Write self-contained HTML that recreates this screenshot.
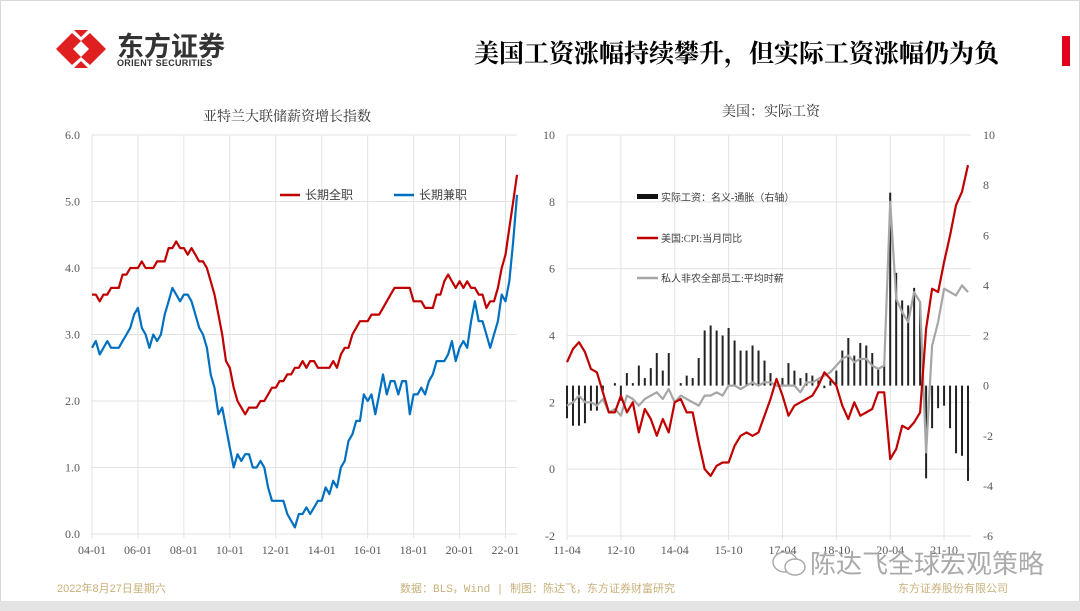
<!DOCTYPE html>
<html><head><meta charset="utf-8"><style>
body{margin:0;width:1080px;height:611px;background:#fff;overflow:hidden;font-family:"Liberation Sans","Noto Sans CJK SC",sans-serif;}
#wrap{position:absolute;left:0;top:0;width:1080px;height:611px;}
.t{position:absolute;white-space:nowrap;}
</style></head><body>
<div id="wrap">
<div style="position:absolute;left:0;top:0;width:1078px;height:601px;border:1px solid #d8d8d8;border-bottom:none"></div>
<div style="position:absolute;left:0;top:601px;width:1080px;height:10px;background:#e4e4e4"></div>
<svg style="position:absolute;left:52px;top:28px" width="58" height="42">
<path d="M4,21 L20,5 L29,13 L21,21 L29,29 L20,37 Z" fill="#e02020"/><path d="M54,21 L38,5 L29,13 L37,21 L29,29 L38,37 Z" fill="#e02020"/>
<path d="M22,2 L36,2 L29,9 Z" fill="#e02020"/><path d="M22,40 L36,40 L29,33 Z" fill="#e02020"/></svg>
<div class="t" style="left:117px;top:30px;font-size:27px;font-weight:bold;color:#333;font-family:'Noto Sans CJK SC',sans-serif;line-height:30px">东方证券</div>
<div class="t" style="left:117px;top:58px;font-size:9px;font-weight:bold;color:#333;letter-spacing:0.3px">ORIENT SECURITIES</div>
<div class="t" style="left:474px;top:34px;font-size:25px;font-weight:bold;color:#000;font-family:'Noto Serif CJK SC',serif">美国工资涨幅持续攀升，但实际工资涨幅仍为负</div>
<div style="position:absolute;left:1062px;top:36px;width:8px;height:30px;background:#e0001b"></div>
<div class="t" style="left:203px;top:106px;font-size:14px;color:#333;font-family:'Noto Serif CJK SC',serif">亚特兰大联储薪资增长指数</div>
<div class="t" style="left:722px;top:101px;font-size:14px;color:#333;font-family:'Noto Serif CJK SC',serif">美国：实际工资</div>
<svg id="L" style="position:absolute;left:0;top:0" width="540" height="560"></svg>
<svg id="R" style="position:absolute;left:540px;top:0" width="540" height="560"></svg>
<svg style="position:absolute;left:771px;top:549px" width="36" height="30"><ellipse cx="14" cy="13" rx="12" ry="10" fill="none" stroke="#aaa" stroke-width="1.5"/><ellipse cx="24" cy="18" rx="10" ry="8" fill="#fff" stroke="#aaa" stroke-width="1.5"/></svg>
<div class="t" style="left:810px;top:546px;font-size:26px;color:#aaa;font-family:'Noto Sans CJK SC',sans-serif;line-height:34px">陈达飞全球宏观策略</div>
<div class="t" style="left:57px;top:580px;font-size:11px;color:#c8b07a">2022年8月27日星期六</div>
<div class="t" style="left:400px;top:580px;font-size:11px;color:#c8b07a;font-family:'Liberation Mono','Noto Sans CJK SC',monospace">数据：BLS，Wind | 制图：陈达飞，东方证券财富研究</div>
<div class="t" style="left:898px;top:580px;font-size:11px;color:#c8b07a">东方证券股份有限公司</div>
</div>
<script>
// Left chart data (bi-monthly from 2004-01)
const leftStart=[2004,1];
const fullTime=[3.6,3.6,3.5,3.6,3.6,3.7, 3.7,3.7,3.9,3.9,4.0,4.0, 4.0,4.1,4.0,4.0,4.0,4.1, 4.1,4.1,4.3,4.3,4.4,4.3, 4.3,4.2,4.3,4.2,4.1,4.1, 4.0,3.8,3.6,3.3,3.0,2.6, 2.5,2.2,2.0,1.9,1.8,1.9, 1.9,1.9,2.0,2.0,2.1,2.2, 2.2,2.3,2.3,2.4,2.4,2.5, 2.5,2.6,2.5,2.6,2.6,2.5, 2.5,2.5,2.5,2.6,2.5,2.7, 2.8,2.8,3.0,3.1,3.2,3.2, 3.2,3.3,3.3,3.3,3.4,3.5, 3.6,3.7,3.7,3.7,3.7,3.7, 3.5,3.5,3.5,3.4,3.4,3.4, 3.6,3.6,3.8,3.9,3.8,3.7, 3.8,3.7,3.8,3.7,3.7,3.6, 3.6,3.4,3.5,3.5,3.7,4.0, 4.2,4.6,5.0,5.4];
const partTime=[2.8,2.9,2.7,2.8,2.9,2.8, 2.8,2.8,2.9,3.0,3.1,3.3, 3.4,3.1,3.0,2.8,3.0,2.9, 3.0,3.3,3.5,3.7,3.6,3.5, 3.6,3.6,3.5,3.3,3.1,3.0, 2.8,2.4,2.2,1.8,1.9,1.6, 1.3,1.0,1.2,1.1,1.2,1.2, 1.0,1.0,1.1,1.0,0.7,0.5, 0.5,0.5,0.5,0.3,0.2,0.1, 0.3,0.3,0.4,0.3,0.4,0.5, 0.5,0.7,0.6,0.8,0.7,1.0, 1.1,1.4,1.5,1.7,1.7,2.1, 2.0,2.1,1.8,2.1,2.4,2.1, 2.3,2.3,2.1,2.3,2.3,1.8, 2.1,2.1,2.2,2.1,2.3,2.4, 2.6,2.6,2.6,2.7,2.9,2.6, 2.8,2.9,2.8,3.2,3.5,3.2, 3.2,3.0,2.8,3.0,3.2,3.6, 3.5,3.8,4.4,5.1];
const leftYTicks=[0,1,2,3,4,5,6];
const leftXTicks=["04-01","06-01","08-01","10-01","12-01","14-01","16-01","18-01","20-01","22-01"];
// Right chart data (bi-monthly from 2011-04)
const rightStart=[2011,4];
const realWage=[-1.3,-1.6,-1.6,-1.5,-1.0, -1.0,-0.2,0.0,0.1,-0.6,0.5, 0.1,0.8,0.3,0.7,1.3,0.6, 1.3,0.0,0.1,0.4,0.3,1.1, 2.2,2.4,2.2,2.0,2.3,1.8, 1.4,1.4,1.6,1.4,1.0,0.5, 0.0,0.3,0.9,0.6,0.3,0.5, 0.4,0.2,-0.1,0.2,0.6,1.4, 1.9,1.2,1.7,1.6,1.3,0.7, 0.8,7.7,4.5,3.4,3.2,3.9, 3.3,-3.7,-1.7,-0.9,-0.8,-1.7, -2.7,-2.8,-3.8];
const cpi=[3.2,3.6,3.8,3.5,3.0, 2.9,2.3,1.7,1.7,2.2,1.7, 2.0,1.1,1.8,1.5,1.0,1.5, 1.1,2.0,2.1,1.7,1.7,0.8, 0.0,-0.2,0.1,0.2,0.2,0.7, 1.0,1.1,1.0,1.1,1.6,2.1, 2.7,2.2,1.6,1.9,2.0,2.1, 2.2,2.5,2.9,2.7,2.5,1.9, 1.5,2.0,1.6,1.7,1.8,2.3, 2.3,0.3,0.6,1.3,1.2,1.4, 1.7,4.2,5.4,5.3,6.2,7.0, 7.9,8.3,9.1];
const hourlyWage=[1.9,2.0,2.2,2.0,2.0, 1.9,2.1,1.7,1.8,1.6,2.2, 2.1,1.9,2.1,2.2,2.3,2.1, 2.4,2.0,2.2,2.1,2.0,1.9, 2.2,2.2,2.3,2.2,2.5,2.5, 2.4,2.5,2.6,2.5,2.6,2.6, 2.5,2.5,2.5,2.5,2.3,2.6, 2.6,2.7,2.8,2.9,3.1,3.3, 3.4,3.2,3.3,3.3,3.1,3.0, 3.1,8.0,5.1,4.7,4.4,5.3, 5.0,0.5,3.7,4.4,5.4,5.3, 5.2,5.5,5.3];
const rightYTicksL=[-2,0,2,4,6,8,10];
const rightYTicksR=[-6,-4,-2,0,2,4,6,8,10];
const rightXTicks=["11-04","12-10","14-04","15-10","17-04","18-10","20-04","21-10"];

const NS="http://www.w3.org/2000/svg";
function mk(p,tag,at){const e=document.createElementNS(NS,tag);for(const k in at)e.setAttribute(k,at[k]);p.appendChild(e);return e;}
function mIdx(lbl,base){const [y,m]=lbl.split('-').map(Number);return (2000+y-base[0])*12+(m-base[1]);}
function txt(p,x,y,s,anchor,size,color){const t=mk(p,'text',{x:x,y:y,'text-anchor':anchor,'font-size':size,fill:color||'#595959','font-family':'Liberation Serif, serif'});t.textContent=s;return t;}

// LEFT
(function(){
const svg=document.getElementById('L');
const X0=92,X1=517,Y0=534,Y1=135,perM=(X1-X0)/222;
const xs=m=>X0+m*perM, ys=v=>Y0-(v/6)*(Y0-Y1);
leftYTicks.forEach(v=>{const l=mk(svg,'line',{x1:X0,x2:X1,y1:ys(v),y2:ys(v),stroke:'#e3e3e3','stroke-width':1});


const t=txt(svg,X0-12,ys(v)+4,v.toFixed(1),'end',12);

});
leftXTicks.forEach(s=>{const x=xs(mIdx(s,leftStart));const l=mk(svg,'line',{x1:x,x2:x,y1:Y1,y2:Y0+4,stroke:'#e3e3e3','stroke-width':1});


const t=txt(svg,x,Y0+20,s,'middle',12);

});
function line(arr,color,name){const pts=arr.map((v,i)=>xs(i*2).toFixed(1)+','+ys(v).toFixed(1)).join(' ');
const p=mk(svg,'polyline',{points:pts,fill:'none',stroke:color,'stroke-width':2.2,'stroke-linejoin':'round'});

}
line(fullTime,'#c00000','line-full-time');
line(partTime,'#0070c0','line-part-time');
const g=mk(svg,'g',{});


mk(g,'line',{x1:280,x2:300,y1:195,y2:195,stroke:'#c00000','stroke-width':2.5});
txt(g,305,199,'长期全职','start',12,'#404040');
mk(g,'line',{x1:394,x2:414,y1:195,y2:195,stroke:'#0070c0','stroke-width':2.5});
txt(g,419,199,'长期兼职','start',12,'#404040');
})();

// RIGHT
(function(){
const svg=document.getElementById('R');
const X0=27,X1=431,YB=536,YT=135,perM=(X1-X0)/135;
const xs=m=>X0+m*perM;
const yl=v=>YB-(v+2)/12*(YB-YT);
const yr=v=>YB-(v+6)/16*(YB-YT);
rightYTicksL.forEach(v=>{const l=mk(svg,'line',{x1:X0,x2:X1,y1:yl(v),y2:yl(v),stroke:'#e3e3e3','stroke-width':1});


const t=txt(svg,X0-12,yl(v)+4,String(v),'end',12);

});
rightYTicksR.forEach(v=>{const t=txt(svg,X1+12,yr(v)+4,String(v),'start',12);

});
rightXTicks.forEach(s=>{const x=xs(mIdx(s,rightStart));const l=mk(svg,'line',{x1:x,x2:x,y1:YT,y2:YB+4,stroke:'#e3e3e3','stroke-width':1});


const t=txt(svg,x,YB+18,s,'middle',12);

});
realWage.forEach((v,i)=>{const x=xs(i*2);const y0=yr(0),y=yr(v);
const r=mk(svg,'rect',{x:x-1,y:Math.min(y0,y),width:2,height:Math.abs(y-y0),fill:'#222'});

});
function line(arr,color,name){const pts=arr.map((v,i)=>xs(i*2).toFixed(1)+','+yl(v).toFixed(1)).join(' ');
const p=mk(svg,'polyline',{points:pts,fill:'none',stroke:color,'stroke-width':2.2,'stroke-linejoin':'round'});

}
line(hourlyWage,'#a6a6a6','line-hourly-wage');
line(cpi,'#c00000','line-cpi');
const g=mk(svg,'g',{});


mk(g,'rect',{x:97,y:194,width:21,height:5,fill:'#111'});
txt(g,121,201,'实际工资：名义-通胀（右轴）','start',10,'#404040');
mk(g,'line',{x1:97,x2:118,y1:238,y2:238,stroke:'#c00000','stroke-width':2.5});
txt(g,121,242,'美国:CPI:当月同比','start',10,'#404040');
mk(g,'line',{x1:97,x2:118,y1:278,y2:278,stroke:'#a6a6a6','stroke-width':2.5});
txt(g,121,282,'私人非农全部员工:平均时薪','start',10,'#404040');
})();
</script>
</body></html>
